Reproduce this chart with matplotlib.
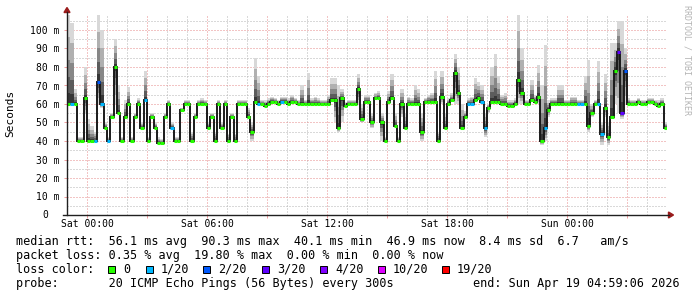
import numpy as np
import matplotlib
matplotlib.use('Agg')
import matplotlib.pyplot as plt
from matplotlib.ticker import MultipleLocator, FuncFormatter
from matplotlib.patches import Rectangle, Polygon
from matplotlib.lines import Line2D

plt.rcParams['font.family'] = 'DejaVu Sans Mono'

W, H = 697, 297

# time axis: hours relative to Sat 00:00, one value per 10 minutes
start_hour = -1.0
step_hours = 10 / 60.0

median_ms = [
    60, 60, 60, 40, 40, 63, 40, 40, 40, 72,
    60, 47, 40, 53, 80, 55, 40, 53, 60, 40,
    53, 60, 47, 62, 40, 53, 47, 39, 39, 53,
    60, 47, 40, 40, 57, 60, 60, 40, 53, 60,
    60, 60, 47, 53, 40, 60, 47, 60, 40, 53,
    40, 60, 60, 60, 53, 45, 61, 60, 60, 59,
    60, 61, 61, 60, 61, 61, 60, 61, 61, 60,
    60, 60, 60, 60, 60, 60, 60, 60, 60, 62,
    62, 47, 63, 59, 60, 60, 60, 68, 52, 61,
    61, 50, 63, 63, 50, 40, 61, 63, 48, 40,
    60, 47, 60, 60, 60, 60, 45, 61, 61, 61,
    61, 40, 64, 47, 60, 62, 77, 66, 47, 53,
    60, 60, 62, 63, 61, 47, 58, 61, 61, 61,
    60, 60, 59, 59, 60, 73, 66, 60, 60, 62,
    61, 64, 40, 47, 57, 60, 60, 60, 60, 60,
    60, 60, 60, 60, 60, 60, 48, 55, 60, 60,
    44, 58, 42, 53, 78, 88, 55, 78, 60, 60,
    60, 61, 60, 60, 61, 61, 60, 59, 60, 47,
]

smoke_hi_ms = [
    108, 104, 68, 42, 42, 80, 52, 48, 45, 108,
    100, 50, 42, 55, 95, 70, 42, 62, 69, 42,
    55, 63, 50, 78, 42, 55, 50, 42, 41, 55,
    62, 50, 42, 42, 58, 62, 62, 45, 55, 62,
    63, 62, 50, 55, 45, 62, 50, 62, 44, 55,
    44, 62, 62, 62, 58, 50, 85, 75, 62, 62,
    63, 64, 63, 62, 64, 64, 63, 65, 63, 62,
    70, 62, 77, 63, 64, 63, 62, 62, 65, 74,
    74, 70, 68, 61, 62, 62, 62, 76, 60, 65,
    65, 55, 66, 67, 55, 42, 67, 76, 55, 42,
    68, 55, 64, 63, 70, 68, 55, 63, 65, 66,
    78, 45, 78, 55, 63, 66, 87, 80, 60, 56,
    63, 64, 74, 72, 70, 55, 60, 80, 87, 75,
    65, 66, 62, 62, 63, 108, 90, 62, 62, 73,
    65, 81, 70, 92, 62, 63, 63, 70, 70, 62,
    62, 64, 64, 62, 62, 75, 84, 60, 62, 83,
    50, 76, 50, 93, 93, 105, 105, 90, 63, 62,
    62, 63, 62, 62, 63, 63, 62, 62, 63, 50,
]

smoke_lo_ms = [
    60, 60, 60, 40, 40, 55, 40, 40, 40, 60,
    58, 47, 40, 53, 60, 55, 40, 53, 60, 40,
    53, 60, 47, 62, 40, 53, 47, 39, 39, 53,
    60, 47, 40, 40, 57, 60, 60, 40, 53, 60,
    60, 60, 47, 53, 40, 60, 47, 60, 40, 53,
    40, 60, 60, 60, 53, 40, 61, 60, 60, 59,
    60, 61, 61, 60, 61, 61, 60, 61, 61, 60,
    60, 60, 60, 60, 60, 60, 60, 60, 60, 62,
    50, 45, 50, 59, 60, 60, 60, 60, 50, 61,
    61, 47, 63, 63, 40, 40, 61, 63, 48, 40,
    53, 47, 60, 60, 60, 60, 40, 61, 61, 61,
    61, 40, 60, 47, 60, 62, 60, 60, 47, 53,
    60, 60, 62, 63, 61, 42, 55, 61, 61, 61,
    60, 60, 59, 59, 60, 60, 60, 60, 60, 62,
    61, 60, 38, 40, 53, 60, 60, 60, 60, 60,
    60, 60, 60, 60, 60, 60, 45, 53, 60, 60,
    38, 53, 38, 53, 60, 55, 52, 60, 60, 60,
    60, 61, 60, 60, 61, 61, 60, 59, 60, 47,
]

# index into loss_labels
loss_class = [
    0, 1, 0, 0, 0, 0, 0, 0, 1, 2,
    1, 0, 1, 0, 0, 0, 0, 0, 0, 0,
    0, 0, 0, 1, 0, 0, 0, 0, 0, 0,
    0, 1, 0, 0, 0, 0, 0, 0, 0, 0,
    0, 0, 0, 0, 0, 0, 0, 0, 0, 0,
    0, 0, 0, 0, 0, 0, 0, 1, 0, 0,
    0, 0, 0, 0, 1, 0, 0, 0, 0, 0,
    0, 0, 0, 0, 0, 0, 0, 0, 0, 0,
    0, 0, 0, 0, 0, 0, 0, 0, 0, 0,
    0, 0, 0, 0, 0, 0, 0, 0, 0, 0,
    0, 0, 0, 0, 0, 0, 0, 0, 0, 0,
    0, 0, 0, 0, 0, 0, 0, 0, 0, 0,
    1, 1, 0, 0, 1, 1, 0, 0, 0, 0,
    0, 0, 0, 0, 0, 0, 0, 0, 0, 0,
    0, 0, 0, 1, 0, 0, 0, 0, 0, 0,
    0, 0, 0, 1, 1, 0, 0, 0, 0, 1,
    1, 0, 0, 0, 0, 3, 3, 2, 0, 0,
    0, 0, 0, 0, 0, 0, 0, 0, 0, 0,
]

loss_labels = ['0', '1/20', '2/20', '3/20', '4/20', '10/20', '19/20']
loss_colors = ['#26ff00', '#00b8ff', '#0059ff', '#5e00ff', '#7e00ff', '#dd00ff', '#ff0000']

tick_hours = [0, 6, 12, 18, 24]
tick_labels = ['Sat 00:00', 'Sat 06:00', 'Sat 12:00', 'Sat 18:00', 'Sun 00:00']

rtt_line = 'median rtt:  56.1 ms avg  90.3 ms max  40.1 ms min  46.9 ms now  8.4 ms sd  6.7   am/s'
loss_line = 'packet loss: 0.35 % avg  19.80 % max  0.00 % min  0.00 % now'
probe_line = 'probe:       20 ICMP Echo Pings (56 Bytes) every 300s'
end_line = 'end: Sun Apr 19 04:59:06 2026'


def fx(x):
    return x / W


def fy(y):
    return 1 - y / H


fig = plt.figure(figsize=(W / 100, H / 100), dpi=100)
fig.patch.set_facecolor('white')
ax = fig.add_axes([fx(67), fy(215), 600 / W, 200 / H])

med = np.array(median_ms, dtype=float)
hi = np.array(smoke_hi_ms, dtype=float)
lo = np.array(smoke_lo_ms, dtype=float)
edges = start_hour + np.arange(len(med) + 1) * step_hours

ax.set_xlim(-1, 29)
ax.set_ylim(0, 200 / 1.85)

# smoke, light outside, darker towards the median
shades = [(1.0, '#d8d8d8'), (0.75, '#b0b0b0'), (0.5, '#878787'), (0.3, '#5c5c5c'), (0.12, '#363636')]
for frac, col in shades:
    ax.stairs(med + (hi - med) * frac, edges, baseline=med - (med - lo) * frac,
              fill=True, color=col, lw=0, zorder=2)

# median line: dark steps, loss coloured plateaus
ax.stairs(med, edges, baseline=None, color='#1a1a1a', lw=1.4, zorder=3)
ax.hlines(med, edges[:-1], edges[1:], colors=[loss_colors[c] for c in loss_class],
          lw=2.2, zorder=4)

# grid: sparse 1px dots
ax.xaxis.set_major_locator(MultipleLocator(3))
ax.xaxis.set_minor_locator(MultipleLocator(1))
ax.yaxis.set_major_locator(MultipleLocator(10))
ax.yaxis.set_minor_locator(MultipleLocator(5))
ax.set_axisbelow(True)
ax.grid(which='minor', color='#b4b4b4', ls=(0, (1, 2)), lw=0.72)
ax.grid(which='major', color='#e68a8a', ls=(0, (1, 2)), lw=0.72)

lab = dict(zip(tick_hours, tick_labels))
ax.xaxis.set_major_formatter(FuncFormatter(lambda v, p: lab.get(int(round(v)), '')))
ax.yaxis.set_major_formatter(FuncFormatter(lambda v, p: '' if v == 0 else '%d m' % v))
ax.tick_params(which='major', length=2.2, width=0.72, color='#f0a0a0', labelsize=7)
ax.tick_params(axis='x', pad=1)
ax.tick_params(axis='y', pad=3.2)
ax.tick_params(which='minor', length=0)
ax.text(-19 / 600, 0, '0', transform=ax.get_yaxis_transform(), ha='right', va='center', fontsize=7)
for s in ax.spines.values():
    s.set_visible(False)

# axes with arrows
axis_col = '#202020'
arrow_col = '#9a1c1c'
fig.add_artist(Line2D([fx(67), fx(67)], [fy(215), fy(12)], color=axis_col, lw=1.0))
fig.add_artist(Line2D([fx(63), fx(669)], [fy(215), fy(215)], color=axis_col, lw=1.0))
fig.add_artist(Polygon([(fx(64), fy(12.5)), (fx(70), fy(12.5)), (fx(67), fy(7.5))],
                       closed=True, color=arrow_col, transform=fig.transFigure))
fig.add_artist(Polygon([(fx(668.5), fy(212)), (fx(668.5), fy(218)), (fx(673.5), fy(215))],
                       closed=True, color=arrow_col, transform=fig.transFigure))

fig.text(fx(10.5), fy(113.5), 'Seconds', rotation=90, ha='center', va='center', fontsize=8)
fig.text(fx(687), fy(5), 'RRDTOOL / TOBI OETIKER', rotation=270, ha='center', va='top',
         fontsize=6, color='#b4b4b4')

# legend block
fs = 8.5
fig.text(fx(16), fy(241.5), rtt_line, ha='left', va='center', fontsize=fs)
fig.text(fx(16), fy(255.2), loss_line, ha='left', va='center', fontsize=fs)
fig.text(fx(16), fy(269.3), 'loss color:', ha='left', va='center', fontsize=fs)
box_x = [108, 146, 203, 262, 320, 378, 442]
for bx, col, txt in zip(box_x, loss_colors, loss_labels):
    fig.add_artist(Rectangle((fx(bx), fy(273)), 7 / W, 7.5 / H, transform=fig.transFigure,
                             facecolor=col, edgecolor='black', lw=0.7))
    fig.text(fx(bx + 15), fy(269.3), txt, ha='left', va='center', fontsize=fs)
fig.text(fx(16), fy(283.4), probe_line, ha='left', va='center', fontsize=fs)
fig.text(fx(680), fy(283.4), end_line, ha='right', va='center', fontsize=fs)

fig.savefig('out.png', dpi=100, facecolor='white')
